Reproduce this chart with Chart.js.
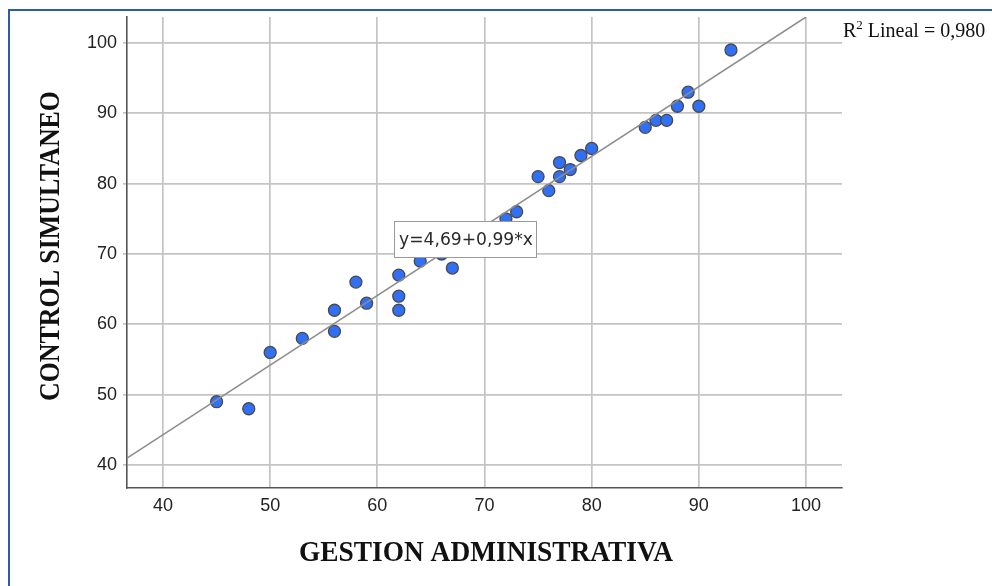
<!DOCTYPE html>
<html>
<head>
<meta charset="utf-8">
<script src="https://cdn.jsdelivr.net/npm/chart.js@4.4.0/dist/chart.umd.min.js"></script>
<style>
    html, body { margin: 0; padding: 0; background: #fff; }
    #wrap { position: relative; width: 992px; height: 586px; }
</style>
</head>
<body>
<div id="wrap"><canvas id="scatterChart" width="992" height="586"></canvas></div>
<script>
        // values
        const gestion = [45, 48, 50, 53, 56, 56, 58, 59, 62, 62, 62, 64, 66, 67, 72, 73, 75, 76, 77, 77, 78, 79, 80, 85, 86, 87, 88, 89, 90, 93];
        const control = [49, 48, 56, 58, 62, 59, 66, 63, 67, 64, 62, 69, 70, 68, 75, 76, 81, 79, 83, 81, 82, 84, 85, 88, 89, 89, 91, 93, 91, 99];
        const fit_x = [36.64, 100];
        const fit_y = [40.96, 103.69];
        const x_ticks = [40, 50, 60, 70, 80, 90, 100];
        const y_ticks = [40, 50, 60, 70, 80, 90, 100];
        const fit_label = 'y=4,69+0,99*x';
        const r2_label = ' Lineal = 0,980';
        const x_title = 'GESTION ADMINISTRATIVA';
        const y_title = 'CONTROL SIMULTANEO';

        const points = gestion.map((g, i) => ({ x: g, y: control[i] }));
        const fitLine = fit_x.map((v, i) => ({ x: v, y: fit_y[i] }));

        // draw text squeezed/stretched horizontally to a given width
        function fitText(ctx, text, w) {
            const s = w / ctx.measureText(text).width;
            ctx.scale(s, 1);
            ctx.fillText(text, 0, 0);
        }

        const extras = {
            id: 'extras',
            afterDatasetsDraw(chart) {
                // equation label box over the points
                const ctx = chart.ctx;
                const bx = Math.round(chart.scales.x.getPixelForValue(61.6));
                const by = Math.round(chart.scales.y.getPixelForValue(74.75));
                ctx.save();
                ctx.fillStyle = '#fff';
                ctx.fillRect(bx, by, 143, 37);
                ctx.strokeStyle = '#9a9a9a';
                ctx.lineWidth = 1;
                ctx.strokeRect(bx + 0.5, by + 0.5, 142, 36);
                ctx.fillStyle = '#2a2a2a';
                ctx.textBaseline = 'middle';
                ctx.font = '17px "DejaVu Sans"';
                ctx.translate(bx + 5, by + 20);
                fitText(ctx, fit_label, 134);
                ctx.restore();
            },
            afterDraw(chart) {
                const ctx = chart.ctx;
                ctx.save();
                ctx.fillStyle = '#111';
                ctx.font = 'bold 29px "Liberation Serif"';
                ctx.textAlign = 'center';
                ctx.textBaseline = 'middle';
                // x title
                ctx.save();
                ctx.translate(486, 554);
                fitText(ctx, x_title, 374);
                ctx.restore();
                // y title
                ctx.save();
                ctx.translate(52, 246);
                ctx.rotate(-Math.PI / 2);
                fitText(ctx, y_title, 310);
                ctx.restore();
                // R2 note
                ctx.textAlign = 'left';
                ctx.textBaseline = 'alphabetic';
                ctx.font = '20px "Liberation Serif"';
                ctx.fillText('R', 843, 37);
                let px = 843 + ctx.measureText('R').width;
                ctx.font = '13px "Liberation Serif"';
                ctx.fillText('2', px, 29);
                px += ctx.measureText('2').width;
                ctx.font = '20px "Liberation Serif"';
                ctx.fillText(r2_label, px, 37);
                // screenshot frame
                ctx.strokeStyle = '#2f5aa8';
                ctx.lineWidth = 2;
                ctx.beginPath();
                ctx.moveTo(9, 586);
                ctx.lineTo(9, 10);
                ctx.lineTo(992, 10);
                ctx.stroke();
                ctx.restore();
            }
        };

        document.addEventListener("DOMContentLoaded", function () {
            let ctx = document.getElementById('scatterChart').getContext('2d');

            const config = {
                type: 'scatter',
                data: {
                    datasets: [{
                        type: 'line',
                        data: fitLine,
                        borderColor: '#8c8c8c',
                        borderWidth: 1.5,
                        pointRadius: 0,
                        order: 0
                    }, {
                        data: points,
                        backgroundColor: '#3170f5',
                        borderColor: '#4a4a4a',
                        borderWidth: 1.3,
                        pointRadius: 6,
                        order: 1
                    }]
                },
                options: {
                    responsive: false,
                    animation: false,
                    devicePixelRatio: 1,
                    layout: { padding: { top: 17, right: 150, left: 0, bottom: 0 } },
                    plugins: { legend: { display: false }, tooltip: { enabled: false } },
                    scales: {
                        x: {
                            type: 'linear',
                            min: 36.64,
                            max: 103.36,
                            afterBuildTicks: s => { s.ticks = x_ticks.map(v => ({ value: v })); },
                            afterFit: s => { s.height = 98; },
                            grid: { color: '#c4c4c4', lineWidth: 1.7, drawTicks: false },
                            border: { display: true, color: '#555', width: 1.6 },
                            ticks: { color: '#222', font: { family: 'Liberation Sans', size: 18 }, padding: 7, maxRotation: 0 }
                        },
                        y: {
                            type: 'linear',
                            min: 36.73,
                            max: 103.69,
                            afterBuildTicks: s => { s.ticks = y_ticks.map(v => ({ value: v })); },
                            afterFit: s => { s.width = 127; },
                            grid: { color: '#c4c4c4', lineWidth: 1.7, tickLength: 4 },
                            border: { display: true, color: '#555', width: 1.6 },
                            ticks: { color: '#222', font: { family: 'Liberation Sans', size: 18 }, padding: 6 }
                        }
                    }
                },
                plugins: [extras]
            };

            new Chart(ctx, config);
        });
</script>
</body>
</html>
